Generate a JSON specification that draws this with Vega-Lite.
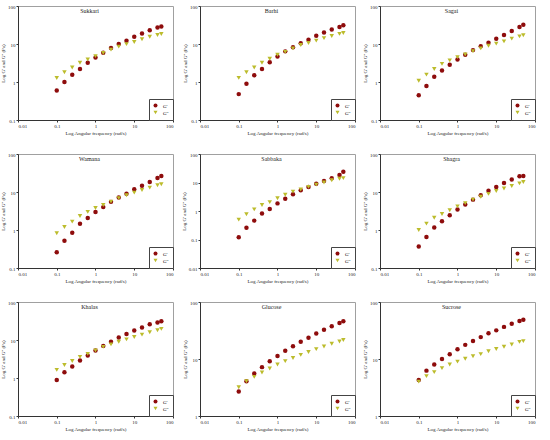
{
  "$schema": "https://vega.github.io/schema/vega-lite/v6.json",
  "padding": {"left": 0, "top": 3, "right": 0, "bottom": 0},
  "config": {
    "font": "Liberation Serif",
    "view": {"stroke": "#a0a0a0"},
    "axis": {
      "grid": false,
      "labelFont": "Liberation Serif",
      "labelFontSize": 5,
      "titleFont": "Liberation Serif",
      "titleFontSize": 5,
      "titleFontWeight": "normal",
      "tickSize": 2,
      "labelPadding": 1,
      "titlePadding": 2,
      "domainColor": "#333",
      "tickColor": "#333",
      "labelColor": "#222",
      "titleColor": "#222"
    },
    "legend": {
      "orient": "bottom-right",
      "offset": 0,
      "strokeColor": "#444",
      "fillColor": "white",
      "padding": 4,
      "labelFont": "Liberation Serif",
      "labelFontSize": 5,
      "symbolSize": 16,
      "rowPadding": 1,
      "labelOffset": 5,
      "symbolStrokeWidth": 0
    },
    "title": {"font": "Liberation Serif", "fontSize": 6, "fontWeight": "normal", "offset": -10, "dx": -6, "color": "#222"},
    "point": {"size": 20, "opacity": 1, "filled": true}
  },
  "data": {
    "values": [
      {"sample": "Sukkari", "freq": 0.1, "modulus": "G'", "value": 0.6},
      {"sample": "Sukkari", "freq": 0.158, "modulus": "G'", "value": 1.0},
      {"sample": "Sukkari", "freq": 0.251, "modulus": "G'", "value": 1.56},
      {"sample": "Sukkari", "freq": 0.398, "modulus": "G'", "value": 2.2},
      {"sample": "Sukkari", "freq": 0.631, "modulus": "G'", "value": 3.2},
      {"sample": "Sukkari", "freq": 1, "modulus": "G'", "value": 4.4},
      {"sample": "Sukkari", "freq": 1.585, "modulus": "G'", "value": 5.9},
      {"sample": "Sukkari", "freq": 2.512, "modulus": "G'", "value": 7.9},
      {"sample": "Sukkari", "freq": 3.981, "modulus": "G'", "value": 10},
      {"sample": "Sukkari", "freq": 6.31, "modulus": "G'", "value": 12.2},
      {"sample": "Sukkari", "freq": 10, "modulus": "G'", "value": 15.6},
      {"sample": "Sukkari", "freq": 15.85, "modulus": "G'", "value": 19},
      {"sample": "Sukkari", "freq": 25.12, "modulus": "G'", "value": 23},
      {"sample": "Sukkari", "freq": 39.81, "modulus": "G'", "value": 27},
      {"sample": "Sukkari", "freq": 50, "modulus": "G'", "value": 29},
      {"sample": "Sukkari", "freq": 0.1, "modulus": "G''", "value": 1.27},
      {"sample": "Sukkari", "freq": 0.158, "modulus": "G''", "value": 1.8},
      {"sample": "Sukkari", "freq": 0.251, "modulus": "G''", "value": 2.4},
      {"sample": "Sukkari", "freq": 0.398, "modulus": "G''", "value": 3.2},
      {"sample": "Sukkari", "freq": 0.631, "modulus": "G''", "value": 3.9},
      {"sample": "Sukkari", "freq": 1, "modulus": "G''", "value": 4.8},
      {"sample": "Sukkari", "freq": 1.585, "modulus": "G''", "value": 5.8},
      {"sample": "Sukkari", "freq": 2.512, "modulus": "G''", "value": 7.1},
      {"sample": "Sukkari", "freq": 3.981, "modulus": "G''", "value": 8.5},
      {"sample": "Sukkari", "freq": 6.31, "modulus": "G''", "value": 9.9},
      {"sample": "Sukkari", "freq": 10, "modulus": "G''", "value": 11.3},
      {"sample": "Sukkari", "freq": 15.85, "modulus": "G''", "value": 13.3},
      {"sample": "Sukkari", "freq": 25.12, "modulus": "G''", "value": 15.5},
      {"sample": "Sukkari", "freq": 39.81, "modulus": "G''", "value": 17.2},
      {"sample": "Sukkari", "freq": 50, "modulus": "G''", "value": 18.3},

      {"sample": "Barhi", "freq": 0.1, "modulus": "G'", "value": 0.48},
      {"sample": "Barhi", "freq": 0.158, "modulus": "G'", "value": 0.9},
      {"sample": "Barhi", "freq": 0.251, "modulus": "G'", "value": 1.5},
      {"sample": "Barhi", "freq": 0.398, "modulus": "G'", "value": 2.2},
      {"sample": "Barhi", "freq": 0.631, "modulus": "G'", "value": 3.3},
      {"sample": "Barhi", "freq": 1, "modulus": "G'", "value": 4.7},
      {"sample": "Barhi", "freq": 1.585, "modulus": "G'", "value": 6.4},
      {"sample": "Barhi", "freq": 2.512, "modulus": "G'", "value": 8.2},
      {"sample": "Barhi", "freq": 3.981, "modulus": "G'", "value": 10.4},
      {"sample": "Barhi", "freq": 6.31, "modulus": "G'", "value": 13},
      {"sample": "Barhi", "freq": 10, "modulus": "G'", "value": 16.5},
      {"sample": "Barhi", "freq": 15.85, "modulus": "G'", "value": 20},
      {"sample": "Barhi", "freq": 25.12, "modulus": "G'", "value": 24},
      {"sample": "Barhi", "freq": 39.81, "modulus": "G'", "value": 28},
      {"sample": "Barhi", "freq": 50, "modulus": "G'", "value": 31},
      {"sample": "Barhi", "freq": 0.1, "modulus": "G''", "value": 1.28},
      {"sample": "Barhi", "freq": 0.158, "modulus": "G''", "value": 1.8},
      {"sample": "Barhi", "freq": 0.251, "modulus": "G''", "value": 2.4},
      {"sample": "Barhi", "freq": 0.398, "modulus": "G''", "value": 3.2},
      {"sample": "Barhi", "freq": 0.631, "modulus": "G''", "value": 4.1},
      {"sample": "Barhi", "freq": 1, "modulus": "G''", "value": 5.2},
      {"sample": "Barhi", "freq": 1.585, "modulus": "G''", "value": 6.2},
      {"sample": "Barhi", "freq": 2.512, "modulus": "G''", "value": 7.7},
      {"sample": "Barhi", "freq": 3.981, "modulus": "G''", "value": 9.4},
      {"sample": "Barhi", "freq": 6.31, "modulus": "G''", "value": 10.6},
      {"sample": "Barhi", "freq": 10, "modulus": "G''", "value": 12.3},
      {"sample": "Barhi", "freq": 15.85, "modulus": "G''", "value": 14.3},
      {"sample": "Barhi", "freq": 25.12, "modulus": "G''", "value": 16.2},
      {"sample": "Barhi", "freq": 39.81, "modulus": "G''", "value": 18.4},
      {"sample": "Barhi", "freq": 50, "modulus": "G''", "value": 19.5},

      {"sample": "Sagai", "freq": 0.1, "modulus": "G'", "value": 0.45},
      {"sample": "Sagai", "freq": 0.158, "modulus": "G'", "value": 0.78},
      {"sample": "Sagai", "freq": 0.251, "modulus": "G'", "value": 1.38},
      {"sample": "Sagai", "freq": 0.398, "modulus": "G'", "value": 2.0},
      {"sample": "Sagai", "freq": 0.631, "modulus": "G'", "value": 2.85},
      {"sample": "Sagai", "freq": 1, "modulus": "G'", "value": 3.9},
      {"sample": "Sagai", "freq": 1.585, "modulus": "G'", "value": 5.2},
      {"sample": "Sagai", "freq": 2.512, "modulus": "G'", "value": 6.9},
      {"sample": "Sagai", "freq": 3.981, "modulus": "G'", "value": 8.7},
      {"sample": "Sagai", "freq": 6.31, "modulus": "G'", "value": 10.8},
      {"sample": "Sagai", "freq": 10, "modulus": "G'", "value": 13.8},
      {"sample": "Sagai", "freq": 15.85, "modulus": "G'", "value": 17.3},
      {"sample": "Sagai", "freq": 25.12, "modulus": "G'", "value": 22},
      {"sample": "Sagai", "freq": 39.81, "modulus": "G'", "value": 28},
      {"sample": "Sagai", "freq": 50, "modulus": "G'", "value": 32},
      {"sample": "Sagai", "freq": 0.1, "modulus": "G''", "value": 1.08},
      {"sample": "Sagai", "freq": 0.158, "modulus": "G''", "value": 1.56},
      {"sample": "Sagai", "freq": 0.251, "modulus": "G''", "value": 2.2},
      {"sample": "Sagai", "freq": 0.398, "modulus": "G''", "value": 3.0},
      {"sample": "Sagai", "freq": 0.631, "modulus": "G''", "value": 3.7},
      {"sample": "Sagai", "freq": 1, "modulus": "G''", "value": 4.5},
      {"sample": "Sagai", "freq": 1.585, "modulus": "G''", "value": 5.3},
      {"sample": "Sagai", "freq": 2.512, "modulus": "G''", "value": 6.5},
      {"sample": "Sagai", "freq": 3.981, "modulus": "G''", "value": 7.7},
      {"sample": "Sagai", "freq": 6.31, "modulus": "G''", "value": 9.0},
      {"sample": "Sagai", "freq": 10, "modulus": "G''", "value": 10.2},
      {"sample": "Sagai", "freq": 15.85, "modulus": "G''", "value": 11.7},
      {"sample": "Sagai", "freq": 25.12, "modulus": "G''", "value": 13.8},
      {"sample": "Sagai", "freq": 39.81, "modulus": "G''", "value": 15.9},
      {"sample": "Sagai", "freq": 50, "modulus": "G''", "value": 17},

      {"sample": "Wamana", "freq": 0.1, "modulus": "G'", "value": 0.26},
      {"sample": "Wamana", "freq": 0.158, "modulus": "G'", "value": 0.52},
      {"sample": "Wamana", "freq": 0.251, "modulus": "G'", "value": 0.85},
      {"sample": "Wamana", "freq": 0.398, "modulus": "G'", "value": 1.47},
      {"sample": "Wamana", "freq": 0.631, "modulus": "G'", "value": 2.07},
      {"sample": "Wamana", "freq": 1, "modulus": "G'", "value": 2.97},
      {"sample": "Wamana", "freq": 1.585, "modulus": "G'", "value": 4.0},
      {"sample": "Wamana", "freq": 2.512, "modulus": "G'", "value": 5.5},
      {"sample": "Wamana", "freq": 3.981, "modulus": "G'", "value": 7.2},
      {"sample": "Wamana", "freq": 6.31, "modulus": "G'", "value": 9.0},
      {"sample": "Wamana", "freq": 10, "modulus": "G'", "value": 11.8},
      {"sample": "Wamana", "freq": 15.85, "modulus": "G'", "value": 14.7},
      {"sample": "Wamana", "freq": 25.12, "modulus": "G'", "value": 18.3},
      {"sample": "Wamana", "freq": 39.81, "modulus": "G'", "value": 23.3},
      {"sample": "Wamana", "freq": 50, "modulus": "G'", "value": 26.3},
      {"sample": "Wamana", "freq": 0.1, "modulus": "G''", "value": 0.82},
      {"sample": "Wamana", "freq": 0.158, "modulus": "G''", "value": 1.2},
      {"sample": "Wamana", "freq": 0.251, "modulus": "G''", "value": 1.66},
      {"sample": "Wamana", "freq": 0.398, "modulus": "G''", "value": 2.33},
      {"sample": "Wamana", "freq": 0.631, "modulus": "G''", "value": 3.0},
      {"sample": "Wamana", "freq": 1, "modulus": "G''", "value": 3.8},
      {"sample": "Wamana", "freq": 1.585, "modulus": "G''", "value": 4.55},
      {"sample": "Wamana", "freq": 2.512, "modulus": "G''", "value": 5.6},
      {"sample": "Wamana", "freq": 3.981, "modulus": "G''", "value": 6.9},
      {"sample": "Wamana", "freq": 6.31, "modulus": "G''", "value": 8.2},
      {"sample": "Wamana", "freq": 10, "modulus": "G''", "value": 9.6},
      {"sample": "Wamana", "freq": 15.85, "modulus": "G''", "value": 11.3},
      {"sample": "Wamana", "freq": 25.12, "modulus": "G''", "value": 13},
      {"sample": "Wamana", "freq": 39.81, "modulus": "G''", "value": 15},
      {"sample": "Wamana", "freq": 50, "modulus": "G''", "value": 16},

      {"sample": "Sabbaka", "freq": 0.1, "modulus": "G'", "value": 0.12},
      {"sample": "Sabbaka", "freq": 0.158, "modulus": "G'", "value": 0.26},
      {"sample": "Sabbaka", "freq": 0.251, "modulus": "G'", "value": 0.46},
      {"sample": "Sabbaka", "freq": 0.398, "modulus": "G'", "value": 0.81},
      {"sample": "Sabbaka", "freq": 0.631, "modulus": "G'", "value": 1.17},
      {"sample": "Sabbaka", "freq": 1, "modulus": "G'", "value": 1.85},
      {"sample": "Sabbaka", "freq": 1.585, "modulus": "G'", "value": 2.7},
      {"sample": "Sabbaka", "freq": 2.512, "modulus": "G'", "value": 3.9},
      {"sample": "Sabbaka", "freq": 3.981, "modulus": "G'", "value": 5.3},
      {"sample": "Sabbaka", "freq": 6.31, "modulus": "G'", "value": 7.0},
      {"sample": "Sabbaka", "freq": 10, "modulus": "G'", "value": 9.0},
      {"sample": "Sabbaka", "freq": 15.85, "modulus": "G'", "value": 11.4},
      {"sample": "Sabbaka", "freq": 25.12, "modulus": "G'", "value": 14},
      {"sample": "Sabbaka", "freq": 39.81, "modulus": "G'", "value": 18.5},
      {"sample": "Sabbaka", "freq": 50, "modulus": "G'", "value": 23.7},
      {"sample": "Sabbaka", "freq": 0.1, "modulus": "G''", "value": 0.5},
      {"sample": "Sabbaka", "freq": 0.158, "modulus": "G''", "value": 0.77},
      {"sample": "Sabbaka", "freq": 0.251, "modulus": "G''", "value": 1.14},
      {"sample": "Sabbaka", "freq": 0.398, "modulus": "G''", "value": 1.63},
      {"sample": "Sabbaka", "freq": 0.631, "modulus": "G''", "value": 2.05},
      {"sample": "Sabbaka", "freq": 1, "modulus": "G''", "value": 2.8},
      {"sample": "Sabbaka", "freq": 1.585, "modulus": "G''", "value": 3.7},
      {"sample": "Sabbaka", "freq": 2.512, "modulus": "G''", "value": 4.8},
      {"sample": "Sabbaka", "freq": 3.981, "modulus": "G''", "value": 5.7},
      {"sample": "Sabbaka", "freq": 6.31, "modulus": "G''", "value": 7.0},
      {"sample": "Sabbaka", "freq": 10, "modulus": "G''", "value": 8.4},
      {"sample": "Sabbaka", "freq": 15.85, "modulus": "G''", "value": 10},
      {"sample": "Sabbaka", "freq": 25.12, "modulus": "G''", "value": 12},
      {"sample": "Sabbaka", "freq": 39.81, "modulus": "G''", "value": 13.5},
      {"sample": "Sabbaka", "freq": 50, "modulus": "G''", "value": 14.2},

      {"sample": "Shagra", "freq": 0.1, "modulus": "G'", "value": 0.37},
      {"sample": "Shagra", "freq": 0.158, "modulus": "G'", "value": 0.65},
      {"sample": "Shagra", "freq": 0.251, "modulus": "G'", "value": 1.17},
      {"sample": "Shagra", "freq": 0.398, "modulus": "G'", "value": 1.69},
      {"sample": "Shagra", "freq": 0.631, "modulus": "G'", "value": 2.43},
      {"sample": "Shagra", "freq": 1, "modulus": "G'", "value": 3.45},
      {"sample": "Shagra", "freq": 1.585, "modulus": "G'", "value": 4.7},
      {"sample": "Shagra", "freq": 2.512, "modulus": "G'", "value": 6.3},
      {"sample": "Shagra", "freq": 3.981, "modulus": "G'", "value": 8.2},
      {"sample": "Shagra", "freq": 6.31, "modulus": "G'", "value": 10.8},
      {"sample": "Shagra", "freq": 10, "modulus": "G'", "value": 13.6},
      {"sample": "Shagra", "freq": 15.85, "modulus": "G'", "value": 17.2},
      {"sample": "Shagra", "freq": 25.12, "modulus": "G'", "value": 21.3},
      {"sample": "Shagra", "freq": 39.81, "modulus": "G'", "value": 25.8},
      {"sample": "Shagra", "freq": 50, "modulus": "G'", "value": 26.5},
      {"sample": "Shagra", "freq": 0.1, "modulus": "G''", "value": 1.0},
      {"sample": "Shagra", "freq": 0.158, "modulus": "G''", "value": 1.47},
      {"sample": "Shagra", "freq": 0.251, "modulus": "G''", "value": 2.1},
      {"sample": "Shagra", "freq": 0.398, "modulus": "G''", "value": 2.63},
      {"sample": "Shagra", "freq": 0.631, "modulus": "G''", "value": 3.3},
      {"sample": "Shagra", "freq": 1, "modulus": "G''", "value": 4.2},
      {"sample": "Shagra", "freq": 1.585, "modulus": "G''", "value": 5.1},
      {"sample": "Shagra", "freq": 2.512, "modulus": "G''", "value": 6.3},
      {"sample": "Shagra", "freq": 3.981, "modulus": "G''", "value": 7.5},
      {"sample": "Shagra", "freq": 6.31, "modulus": "G''", "value": 8.9},
      {"sample": "Shagra", "freq": 10, "modulus": "G''", "value": 10.6},
      {"sample": "Shagra", "freq": 15.85, "modulus": "G''", "value": 12.4},
      {"sample": "Shagra", "freq": 25.12, "modulus": "G''", "value": 14.4},
      {"sample": "Shagra", "freq": 39.81, "modulus": "G''", "value": 16.9},
      {"sample": "Shagra", "freq": 50, "modulus": "G''", "value": 18.3},

      {"sample": "Khalas", "freq": 0.1, "modulus": "G'", "value": 0.885},
      {"sample": "Khalas", "freq": 0.158, "modulus": "G'", "value": 1.41},
      {"sample": "Khalas", "freq": 0.251, "modulus": "G'", "value": 2.0},
      {"sample": "Khalas", "freq": 0.398, "modulus": "G'", "value": 2.9},
      {"sample": "Khalas", "freq": 0.631, "modulus": "G'", "value": 3.9},
      {"sample": "Khalas", "freq": 1, "modulus": "G'", "value": 5.3},
      {"sample": "Khalas", "freq": 1.585, "modulus": "G'", "value": 7.0},
      {"sample": "Khalas", "freq": 2.512, "modulus": "G'", "value": 9.0},
      {"sample": "Khalas", "freq": 3.981, "modulus": "G'", "value": 11.6},
      {"sample": "Khalas", "freq": 6.31, "modulus": "G'", "value": 14.4},
      {"sample": "Khalas", "freq": 10, "modulus": "G'", "value": 17.7},
      {"sample": "Khalas", "freq": 15.85, "modulus": "G'", "value": 21.3},
      {"sample": "Khalas", "freq": 25.12, "modulus": "G'", "value": 26},
      {"sample": "Khalas", "freq": 39.81, "modulus": "G'", "value": 29},
      {"sample": "Khalas", "freq": 50, "modulus": "G'", "value": 31},
      {"sample": "Khalas", "freq": 0.1, "modulus": "G''", "value": 1.63},
      {"sample": "Khalas", "freq": 0.158, "modulus": "G''", "value": 2.2},
      {"sample": "Khalas", "freq": 0.251, "modulus": "G''", "value": 2.8},
      {"sample": "Khalas", "freq": 0.398, "modulus": "G''", "value": 3.6},
      {"sample": "Khalas", "freq": 0.631, "modulus": "G''", "value": 4.3},
      {"sample": "Khalas", "freq": 1, "modulus": "G''", "value": 5.3},
      {"sample": "Khalas", "freq": 1.585, "modulus": "G''", "value": 6.6},
      {"sample": "Khalas", "freq": 2.512, "modulus": "G''", "value": 7.7},
      {"sample": "Khalas", "freq": 3.981, "modulus": "G''", "value": 9.0},
      {"sample": "Khalas", "freq": 6.31, "modulus": "G''", "value": 10.4},
      {"sample": "Khalas", "freq": 10, "modulus": "G''", "value": 12.0},
      {"sample": "Khalas", "freq": 15.85, "modulus": "G''", "value": 13.9},
      {"sample": "Khalas", "freq": 25.12, "modulus": "G''", "value": 16},
      {"sample": "Khalas", "freq": 39.81, "modulus": "G''", "value": 18.1},
      {"sample": "Khalas", "freq": 50, "modulus": "G''", "value": 19.6},

      {"sample": "Glucose", "freq": 0.1, "modulus": "G'", "value": 2.7},
      {"sample": "Glucose", "freq": 0.158, "modulus": "G'", "value": 4.07},
      {"sample": "Glucose", "freq": 0.251, "modulus": "G'", "value": 5.57},
      {"sample": "Glucose", "freq": 0.398, "modulus": "G'", "value": 7.2},
      {"sample": "Glucose", "freq": 0.631, "modulus": "G'", "value": 9.1},
      {"sample": "Glucose", "freq": 1, "modulus": "G'", "value": 11.3},
      {"sample": "Glucose", "freq": 1.585, "modulus": "G'", "value": 13.9},
      {"sample": "Glucose", "freq": 2.512, "modulus": "G'", "value": 16.8},
      {"sample": "Glucose", "freq": 3.981, "modulus": "G'", "value": 20},
      {"sample": "Glucose", "freq": 6.31, "modulus": "G'", "value": 23.6},
      {"sample": "Glucose", "freq": 10, "modulus": "G'", "value": 28},
      {"sample": "Glucose", "freq": 15.85, "modulus": "G'", "value": 32.6},
      {"sample": "Glucose", "freq": 25.12, "modulus": "G'", "value": 37.5},
      {"sample": "Glucose", "freq": 39.81, "modulus": "G'", "value": 42.9},
      {"sample": "Glucose", "freq": 50, "modulus": "G'", "value": 46},
      {"sample": "Glucose", "freq": 0.1, "modulus": "G''", "value": 3.2},
      {"sample": "Glucose", "freq": 0.158, "modulus": "G''", "value": 4.07},
      {"sample": "Glucose", "freq": 0.251, "modulus": "G''", "value": 4.85},
      {"sample": "Glucose", "freq": 0.398, "modulus": "G''", "value": 5.8},
      {"sample": "Glucose", "freq": 0.631, "modulus": "G''", "value": 6.8},
      {"sample": "Glucose", "freq": 1, "modulus": "G''", "value": 8.0},
      {"sample": "Glucose", "freq": 1.585, "modulus": "G''", "value": 9.2},
      {"sample": "Glucose", "freq": 2.512, "modulus": "G''", "value": 10.4},
      {"sample": "Glucose", "freq": 3.981, "modulus": "G''", "value": 11.8},
      {"sample": "Glucose", "freq": 6.31, "modulus": "G''", "value": 13.3},
      {"sample": "Glucose", "freq": 10, "modulus": "G''", "value": 14.9},
      {"sample": "Glucose", "freq": 15.85, "modulus": "G''", "value": 16.6},
      {"sample": "Glucose", "freq": 25.12, "modulus": "G''", "value": 18.5},
      {"sample": "Glucose", "freq": 39.81, "modulus": "G''", "value": 20.3},
      {"sample": "Glucose", "freq": 50, "modulus": "G''", "value": 21.5},

      {"sample": "Sucrose", "freq": 0.1, "modulus": "G'", "value": 4.3},
      {"sample": "Sucrose", "freq": 0.158, "modulus": "G'", "value": 6.25},
      {"sample": "Sucrose", "freq": 0.251, "modulus": "G'", "value": 8.0},
      {"sample": "Sucrose", "freq": 0.398, "modulus": "G'", "value": 9.96},
      {"sample": "Sucrose", "freq": 0.631, "modulus": "G'", "value": 12.1},
      {"sample": "Sucrose", "freq": 1, "modulus": "G'", "value": 14.8},
      {"sample": "Sucrose", "freq": 1.585, "modulus": "G'", "value": 17.7},
      {"sample": "Sucrose", "freq": 2.512, "modulus": "G'", "value": 20.7},
      {"sample": "Sucrose", "freq": 3.981, "modulus": "G'", "value": 24.2},
      {"sample": "Sucrose", "freq": 6.31, "modulus": "G'", "value": 28.3},
      {"sample": "Sucrose", "freq": 10, "modulus": "G'", "value": 31.8},
      {"sample": "Sucrose", "freq": 15.85, "modulus": "G'", "value": 36.6},
      {"sample": "Sucrose", "freq": 25.12, "modulus": "G'", "value": 41.7},
      {"sample": "Sucrose", "freq": 39.81, "modulus": "G'", "value": 46.3},
      {"sample": "Sucrose", "freq": 50, "modulus": "G'", "value": 48.8},
      {"sample": "Sucrose", "freq": 0.1, "modulus": "G''", "value": 4.0},
      {"sample": "Sucrose", "freq": 0.158, "modulus": "G''", "value": 5.0},
      {"sample": "Sucrose", "freq": 0.251, "modulus": "G''", "value": 5.9},
      {"sample": "Sucrose", "freq": 0.398, "modulus": "G''", "value": 6.9},
      {"sample": "Sucrose", "freq": 0.631, "modulus": "G''", "value": 8.0},
      {"sample": "Sucrose", "freq": 1, "modulus": "G''", "value": 9.0},
      {"sample": "Sucrose", "freq": 1.585, "modulus": "G''", "value": 10.1},
      {"sample": "Sucrose", "freq": 2.512, "modulus": "G''", "value": 11.2},
      {"sample": "Sucrose", "freq": 3.981, "modulus": "G''", "value": 12.2},
      {"sample": "Sucrose", "freq": 6.31, "modulus": "G''", "value": 13.7},
      {"sample": "Sucrose", "freq": 10, "modulus": "G''", "value": 15.0},
      {"sample": "Sucrose", "freq": 15.85, "modulus": "G''", "value": 16.4},
      {"sample": "Sucrose", "freq": 25.12, "modulus": "G''", "value": 18.0},
      {"sample": "Sucrose", "freq": 39.81, "modulus": "G''", "value": 20.0},
      {"sample": "Sucrose", "freq": 50, "modulus": "G''", "value": 20.6}
    ]
  },
  "columns": 3,
  "spacing": {"row": 15, "column": 6},
  "resolve": {"scale": {"color": "independent", "shape": "independent"}},
  "concat": [
    {
      "width": 155, "height": 114,
      "title": "Sukkari",
      "transform": [{"filter": "datum.sample == 'Sukkari'"}],
      "mark": "point",
      "encoding": {
        "x": {"field": "freq", "type": "quantitative", "scale": {"type": "log", "domain": [0.01, 100]}, "axis": {"values": [0.01, 0.1, 1, 10, 100], "format": "~g"}, "title": "Log Angular frequency (rad/s)"},
        "y": {"field": "value", "type": "quantitative", "scale": {"type": "log", "domain": [0.1, 100]}, "axis": {"values": [0.1, 1, 10, 100], "format": "~g"}, "title": "Log G' and G'' (Pa)"},
        "color": {"field": "modulus", "type": "nominal", "scale": {"domain": ["G'", "G''"], "range": ["#8e0c0c", "#bcbc2c"]}, "title": null},
        "shape": {"field": "modulus", "type": "nominal", "scale": {"domain": ["G'", "G''"], "range": ["circle", "triangle-down"]}, "title": null}
      }
    },
    {
      "width": 155, "height": 114,
      "title": "Barhi",
      "transform": [{"filter": "datum.sample == 'Barhi'"}],
      "mark": "point",
      "encoding": {
        "x": {"field": "freq", "type": "quantitative", "scale": {"type": "log", "domain": [0.01, 100]}, "axis": {"values": [0.01, 0.1, 1, 10, 100], "format": "~g"}, "title": "Log Angular frequency (rad/s)"},
        "y": {"field": "value", "type": "quantitative", "scale": {"type": "log", "domain": [0.1, 100]}, "axis": {"values": [0.1, 1, 10, 100], "format": "~g"}, "title": "Log G' and G'' (Pa)"},
        "color": {"field": "modulus", "type": "nominal", "scale": {"domain": ["G'", "G''"], "range": ["#8e0c0c", "#bcbc2c"]}, "title": null},
        "shape": {"field": "modulus", "type": "nominal", "scale": {"domain": ["G'", "G''"], "range": ["circle", "triangle-down"]}, "title": null}
      }
    },
    {
      "width": 155, "height": 114,
      "title": "Sagai",
      "transform": [{"filter": "datum.sample == 'Sagai'"}],
      "mark": "point",
      "encoding": {
        "x": {"field": "freq", "type": "quantitative", "scale": {"type": "log", "domain": [0.01, 100]}, "axis": {"values": [0.01, 0.1, 1, 10, 100], "format": "~g"}, "title": "Log Angular frequency (rad/s)"},
        "y": {"field": "value", "type": "quantitative", "scale": {"type": "log", "domain": [0.1, 100]}, "axis": {"values": [0.1, 1, 10, 100], "format": "~g"}, "title": "Log G' and G'' (Pa)"},
        "color": {"field": "modulus", "type": "nominal", "scale": {"domain": ["G'", "G''"], "range": ["#8e0c0c", "#bcbc2c"]}, "title": null},
        "shape": {"field": "modulus", "type": "nominal", "scale": {"domain": ["G'", "G''"], "range": ["circle", "triangle-down"]}, "title": null}
      }
    },
    {
      "width": 155, "height": 114,
      "title": "Wamana",
      "transform": [{"filter": "datum.sample == 'Wamana'"}],
      "mark": "point",
      "encoding": {
        "x": {"field": "freq", "type": "quantitative", "scale": {"type": "log", "domain": [0.01, 100]}, "axis": {"values": [0.01, 0.1, 1, 10, 100], "format": "~g"}, "title": "Log Angular frequency (rad/s)"},
        "y": {"field": "value", "type": "quantitative", "scale": {"type": "log", "domain": [0.1, 100]}, "axis": {"values": [0.1, 1, 10, 100], "format": "~g"}, "title": "Log G' and G'' (Pa)"},
        "color": {"field": "modulus", "type": "nominal", "scale": {"domain": ["G'", "G''"], "range": ["#8e0c0c", "#bcbc2c"]}, "title": null},
        "shape": {"field": "modulus", "type": "nominal", "scale": {"domain": ["G'", "G''"], "range": ["circle", "triangle-down"]}, "title": null}
      }
    },
    {
      "width": 155, "height": 114,
      "title": "Sabbaka",
      "transform": [{"filter": "datum.sample == 'Sabbaka'"}],
      "mark": "point",
      "encoding": {
        "x": {"field": "freq", "type": "quantitative", "scale": {"type": "log", "domain": [0.01, 100]}, "axis": {"values": [0.01, 0.1, 1, 10, 100], "format": "~g"}, "title": "Log Angular frequency (rad/s)"},
        "y": {"field": "value", "type": "quantitative", "scale": {"type": "log", "domain": [0.01, 100]}, "axis": {"values": [0.01, 0.1, 1, 10, 100], "format": "~g"}, "title": "Log G' and G'' (Pa)"},
        "color": {"field": "modulus", "type": "nominal", "scale": {"domain": ["G'", "G''"], "range": ["#8e0c0c", "#bcbc2c"]}, "title": null},
        "shape": {"field": "modulus", "type": "nominal", "scale": {"domain": ["G'", "G''"], "range": ["circle", "triangle-down"]}, "title": null}
      }
    },
    {
      "width": 155, "height": 114,
      "title": "Shagra",
      "transform": [{"filter": "datum.sample == 'Shagra'"}],
      "mark": "point",
      "encoding": {
        "x": {"field": "freq", "type": "quantitative", "scale": {"type": "log", "domain": [0.01, 100]}, "axis": {"values": [0.01, 0.1, 1, 10, 100], "format": "~g"}, "title": "Log Angular frequency (rad/s)"},
        "y": {"field": "value", "type": "quantitative", "scale": {"type": "log", "domain": [0.1, 100]}, "axis": {"values": [0.1, 1, 10, 100], "format": "~g"}, "title": "Log G' and G'' (Pa)"},
        "color": {"field": "modulus", "type": "nominal", "scale": {"domain": ["G'", "G''"], "range": ["#8e0c0c", "#bcbc2c"]}, "title": null},
        "shape": {"field": "modulus", "type": "nominal", "scale": {"domain": ["G'", "G''"], "range": ["circle", "triangle-down"]}, "title": null}
      }
    },
    {
      "width": 155, "height": 114,
      "title": "Khalas",
      "transform": [{"filter": "datum.sample == 'Khalas'"}],
      "mark": "point",
      "encoding": {
        "x": {"field": "freq", "type": "quantitative", "scale": {"type": "log", "domain": [0.01, 100]}, "axis": {"values": [0.01, 0.1, 1, 10, 100], "format": "~g"}, "title": "Log Angular frequency (rad/s)"},
        "y": {"field": "value", "type": "quantitative", "scale": {"type": "log", "domain": [0.1, 100]}, "axis": {"values": [0.1, 1, 10, 100], "format": "~g"}, "title": "Log G' and G'' (Pa)"},
        "color": {"field": "modulus", "type": "nominal", "scale": {"domain": ["G'", "G''"], "range": ["#8e0c0c", "#bcbc2c"]}, "title": null},
        "shape": {"field": "modulus", "type": "nominal", "scale": {"domain": ["G'", "G''"], "range": ["circle", "triangle-down"]}, "title": null}
      }
    },
    {
      "width": 155, "height": 114,
      "title": "Glucose",
      "transform": [{"filter": "datum.sample == 'Glucose'"}],
      "mark": "point",
      "encoding": {
        "x": {"field": "freq", "type": "quantitative", "scale": {"type": "log", "domain": [0.01, 100]}, "axis": {"values": [0.01, 0.1, 1, 10, 100], "format": "~g"}, "title": "Log Angular frequency (rad/s)"},
        "y": {"field": "value", "type": "quantitative", "scale": {"type": "log", "domain": [1, 100]}, "axis": {"values": [1, 10, 100], "format": "~g"}, "title": "Log G' and G'' (Pa)"},
        "color": {"field": "modulus", "type": "nominal", "scale": {"domain": ["G'", "G''"], "range": ["#8e0c0c", "#bcbc2c"]}, "title": null},
        "shape": {"field": "modulus", "type": "nominal", "scale": {"domain": ["G'", "G''"], "range": ["circle", "triangle-down"]}, "title": null}
      }
    },
    {
      "width": 155, "height": 114,
      "title": "Sucrose",
      "transform": [{"filter": "datum.sample == 'Sucrose'"}],
      "mark": "point",
      "encoding": {
        "x": {"field": "freq", "type": "quantitative", "scale": {"type": "log", "domain": [0.01, 100]}, "axis": {"values": [0.01, 0.1, 1, 10, 100], "format": "~g"}, "title": "Log Angular frequency (rad/s)"},
        "y": {"field": "value", "type": "quantitative", "scale": {"type": "log", "domain": [1, 100]}, "axis": {"values": [1, 10, 100], "format": "~g"}, "title": "Log G' and G'' (Pa)"},
        "color": {"field": "modulus", "type": "nominal", "scale": {"domain": ["G'", "G''"], "range": ["#8e0c0c", "#bcbc2c"]}, "title": null},
        "shape": {"field": "modulus", "type": "nominal", "scale": {"domain": ["G'", "G''"], "range": ["circle", "triangle-down"]}, "title": null}
      }
    }
  ]
}
